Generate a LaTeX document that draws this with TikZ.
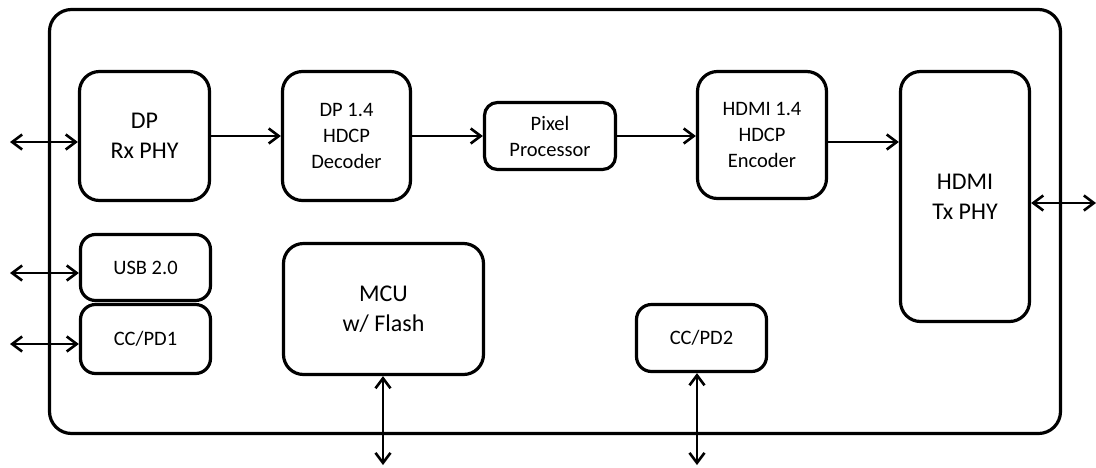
\documentclass[tikz,border=0pt]{standalone}
\usepackage{fontspec}
\setmainfont{Carlito}
\usetikzlibrary{arrows.meta}
\begin{document}
\begin{tikzpicture}[x=1pt,y=-1pt,
  blk/.style={draw,line width=3.2pt,rounded corners=20pt,align=center,inner sep=0pt,
    font=\fontsize{24}{30}\selectfont},
  sblk/.style={blk,font=\fontsize{20.5}{26}\selectfont},
  arr/.style={line width=2.6pt,-{Straight Barb[length=10pt,width=15pt]}},
  darr/.style={line width=2.6pt,{Straight Barb[length=10pt,width=15pt]}-{Straight Barb[length=10pt,width=15pt]}}]
\useasboundingbox (0,0) rectangle (1096,467);
\draw[line width=3.2pt,rounded corners=22pt] (49.5,9.5) rectangle (1060.5,433.5);
\node[blk,minimum width=130pt,minimum height=129pt] (dprx) at (144.5,136) {DP\\Rx PHY};
\node[sblk,minimum width=128pt,minimum height=129pt] (dec) at (346.5,136) {DP 1.4\\HDCP\\Decoder};
\node[sblk,rounded corners=13pt,minimum width=131pt,minimum height=67pt] (pix) at (550,136) {Pixel\\Processor};
\node[sblk,minimum width=129pt,minimum height=127pt] (enc) at (762,135) {HDMI 1.4\\HDCP\\Encoder};
\node[blk,minimum width=129pt,minimum height=250pt] (tx) at (965,196.5) {HDMI\\Tx PHY};
\node[sblk,rounded corners=15pt,minimum width=130pt,minimum height=66pt] (usb) at (145.5,267.5) {USB 2.0};
\node[sblk,rounded corners=15pt,minimum width=130pt,minimum height=69pt] (cc1) at (145.5,339) {CC/PD1};
\node[blk,minimum width=200pt,minimum height=131pt] (mcu) at (383.5,309) {MCU\\w/ Flash};
\node[sblk,rounded corners=15pt,minimum width=130pt,minimum height=67pt] (cc2) at (701.5,338) {CC/PD2};
\coordinate (l1) at (10,142);
\coordinate (l2) at (10,273);
\coordinate (l3) at (10,344);
\coordinate (r1) at (1096,203);
\coordinate (b1) at (383,465);
\coordinate (b2) at (697,465);
\draw[arr] (dprx.east) -- (dec.west);
\draw[arr] (dec.east) -- (pix.west);
\draw[arr] (pix.east) -- (enc.west |- pix.east);
\draw[arr] (enc.east |- 0,142) -- (tx.west |- 0,142);
\draw[darr] (l1) -- (dprx.west |- l1);
\draw[darr] (l2) -- (usb.west |- l2);
\draw[darr] (l3) -- (cc1.west |- l3);
\draw[darr] (tx.east |- r1) -- (r1);
\draw[darr] (mcu.south -| b1) -- (b1);
\draw[darr] (cc2.south -| b2) -- (b2);
\end{tikzpicture}
\end{document}
